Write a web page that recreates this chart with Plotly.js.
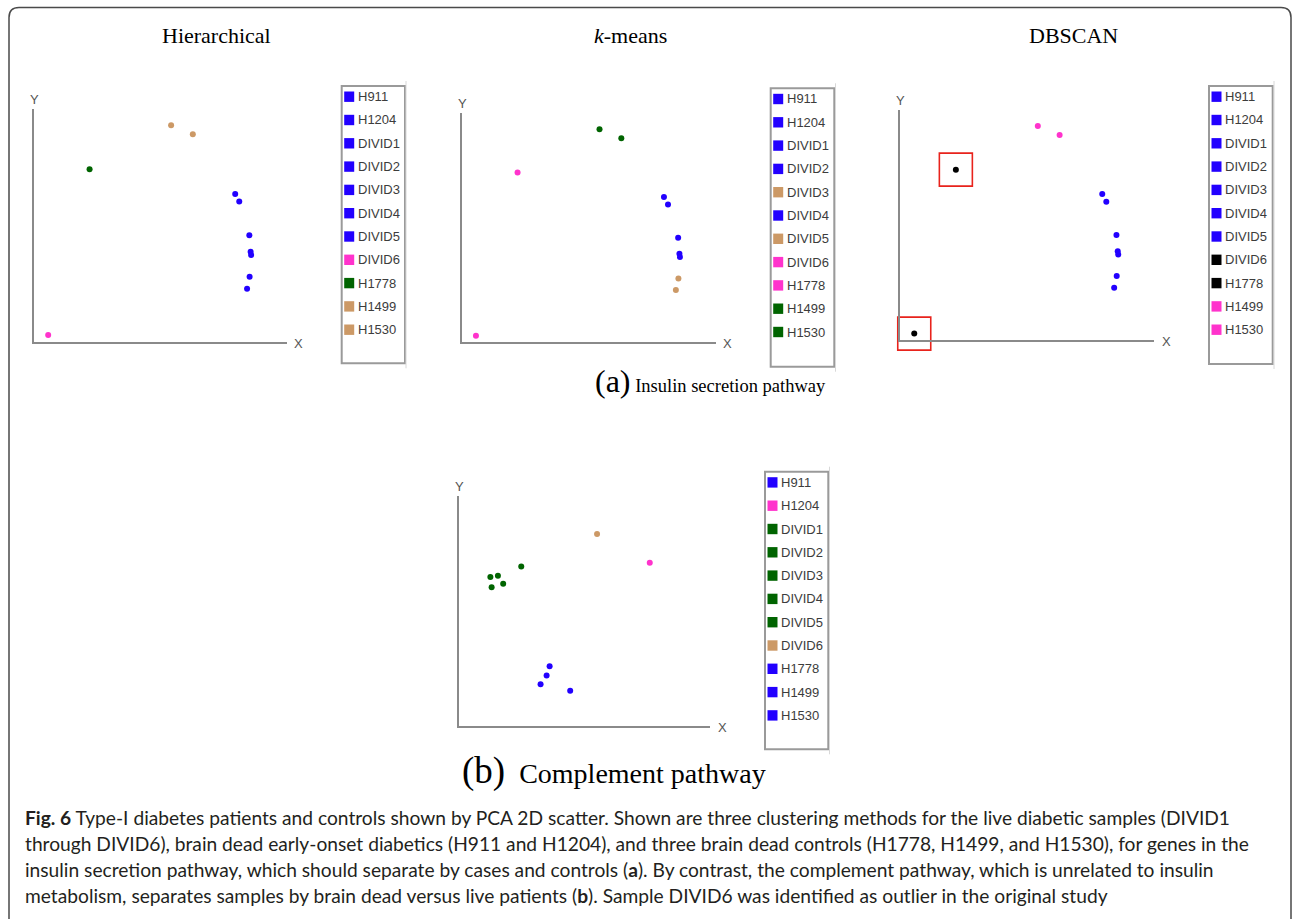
<!DOCTYPE html>
<html>
<head>
<meta charset="utf-8">
<script src="https://cdn.plot.ly/plotly-3.0.1.min.js"></script>
<style>
  html, body { margin: 0; padding: 0; background: #fff; }
  #chart { width: 1293px; height: 919px; }
</style>
</head>
<body>
<div id="chart"></div>
<script>
// ---------------- DATA ----------------
const samples = ['H911','H1204','DIVID1','DIVID2','DIVID3','DIVID4','DIVID5','DIVID6','H1778','H1499','H1530'];

// PCA 2D coordinates (arbitrary units), insulin secretion pathway
const insulinX = [79.6, 81.2, 85.2, 85.7, 85.3, 85.9, 84.3, 5.5, 21.9, 54.2, 62.8];
const insulinY = [63.5, 60.2, 45.7, 38.7, 27.9, 37.3, 22.8, 2.9, 74.1, 93.0, 89.1];

// PCA 2D coordinates (arbitrary units), complement pathway
const complementX = [36.1, 76.0, 24.8, 12.5, 15.5, 17.6, 13.0, 55.0, 34.9, 32.5, 44.3];
const complementY = [26.0, 71.0, 69.3, 64.8, 65.3, 61.9, 60.3, 83.5, 22.0, 18.1, 15.3];

// cluster assignments per method
const hierClusters       = ['blue','blue','blue','blue','blue','blue','blue','pink','green','tan','tan'];
const kmeansClusters     = ['blue','blue','blue','blue','tan','blue','tan','pink','pink','green','green'];
const dbscanClusters     = ['blue','blue','blue','blue','blue','blue','blue','black','black','pink','pink'];
const complementClusters = ['blue','pink','green','green','green','green','green','tan','blue','blue','blue'];

const dbscanOutliers = ['DIVID6','H1778'];

const panelTitles = ['Hierarchical', '<i>k</i>-means', 'DBSCAN'];

const captionLines = [
  '<b>Fig. 6</b> Type-I diabetes patients and controls shown by PCA 2D scatter. Shown are three clustering methods for the live diabetic samples (DIVID1',
  'through DIVID6), brain dead early-onset diabetics (H911 and H1204), and three brain dead controls (H1778, H1499, and H1530), for genes in the',
  'insulin secretion pathway, which should separate by cases and controls (<b>a</b>). By contrast, the complement pathway, which is unrelated to insulin',
  'metabolism, separates samples by brain dead versus live patients (<b>b</b>). Sample DIVID6 was identified as outlier in the original study'
];

// ---------------- STYLE ----------------
const palette = { blue: '#2200ff', pink: '#ff33cc', green: '#006400', tan: '#cc9966', black: '#000000' };
const W = 1293, H = 919;
const px = v => v / W;
const py = v => 1 - v / H;

// panel geometry (pixels): axis extents, legend box
const panels = [
  { xs: insulinX,    ys: insulinY,    cl: hierClusters,       ax: [34.3, 286.7], ay: [109, 341.7], lg: [341.7, 86, 405.0, 363.3], art: 406 },
  { xs: insulinX,    ys: insulinY,    cl: kmeansClusters,     ax: [462, 715.7],  ay: [113.3, 342.3], lg: [770.7, 88.3, 834.3, 366.7], art: 835.5 },
  { xs: insulinX,    ys: insulinY,    cl: dbscanClusters,     ax: [900.3, 1154], ay: [110, 340.3], lg: [1209, 86, 1272.7, 364], art: 1274 },
  { xs: complementX, ys: complementY, cl: complementClusters, ax: [459, 710],    ay: [496, 726],   lg: [765, 471.7, 828.3, 749.3], art: 829.5 }
];

const traces = [];
const shapes = [];
const annotations = [];
const layout = {
  width: W, height: H,
  margin: { l: 0, r: 0, t: 0, b: 0 },
  paper_bgcolor: '#ffffff',
  plot_bgcolor: 'rgba(0,0,0,0)',
  showlegend: false,
  hovermode: 'closest'
};

panels.forEach((p, k) => {
  const n = k === 0 ? '' : String(k + 1);
  const xa = 'xaxis' + n, ya = 'yaxis' + n;
  const axCommon = {
    range: [0, 100], showline: true, linecolor: '#8a8a8a', linewidth: 2,
    showgrid: false, zeroline: false, showticklabels: false, ticks: '', fixedrange: true
  };
  layout[xa] = Object.assign({}, axCommon, { domain: [px(p.ax[0]), px(p.ax[1])], anchor: 'y' + n });
  layout[ya] = Object.assign({}, axCommon, { domain: [py(p.ay[1]), py(p.ay[0])], anchor: 'x' + n });

  traces.push({
    type: 'scatter', mode: 'markers',
    x: p.xs, y: p.ys, text: samples,
    xaxis: 'x' + n, yaxis: 'y' + n, cliponaxis: false,
    marker: { size: 6, color: p.cl.map(c => palette[c]), line: { width: 0 } },
    hovertemplate: '%{text}<extra></extra>', showlegend: false
  });

  // axis labels
  annotations.push({ xref: 'x' + n + ' domain', yref: 'y' + n + ' domain', x: 0, y: 1,
    text: 'Y', showarrow: false, yanchor: 'middle', xanchor: 'center', yshift: 10,
    font: { family: 'Liberation Sans, Arial, sans-serif', size: 13, color: '#555' } });
  annotations.push({ xref: 'x' + n + ' domain', yref: 'y' + n + ' domain', x: 1, y: 0,
    text: 'X', showarrow: false, yanchor: 'middle', xanchor: 'center', xshift: 12, yshift: -1.5,
    font: { family: 'Liberation Sans, Arial, sans-serif', size: 13, color: '#555' } });

  // legend box
  const [L, T, R, B] = p.lg;
  shapes.push({ type: 'rect', xref: 'paper', yref: 'paper', x0: px(L), x1: px(R), y0: py(B), y1: py(T),
    line: { color: '#9a9a9a', width: 2 }, fillcolor: 'rgba(0,0,0,0)' });
  // thin scan artefact line right of legend
  shapes.push({ type: 'line', xref: 'paper', yref: 'paper', x0: px(p.art), x1: px(p.art), y0: py(B + 5), y1: py(T - 5),
    line: { color: '#d8d8d8', width: 1 } });
  samples.forEach((s, i) => {
    const cy = T + 10.7 + i * 23.3;
    shapes.push({ type: 'rect', xref: 'paper', yref: 'paper',
      x0: px(L + 2.5), x1: px(L + 12.5), y0: py(cy + 5.2), y1: py(cy - 5.2),
      line: { width: 0 }, fillcolor: palette[p.cl[i]] });
    annotations.push({ xref: 'paper', yref: 'paper', x: px(L + 14), y: py(cy),
      text: s, showarrow: false, xanchor: 'left', yanchor: 'middle',
      font: { family: 'Liberation Sans, Arial, sans-serif', size: 13, color: '#3c3c3c' } });
  });
});

// DBSCAN outlier boxes (open square markers around the outlier points)
const outIdx = dbscanOutliers.map(nm => samples.indexOf(nm));
traces.push({
  type: 'scatter', mode: 'markers', xaxis: 'x3', yaxis: 'y3', cliponaxis: false,
  x: outIdx.map(i => insulinX[i]), y: outIdx.map(i => insulinY[i]),
  text: dbscanOutliers, hovertemplate: 'outlier: %{text}<extra></extra>', showlegend: false,
  marker: { symbol: 'square-open', size: 33, color: '#e8231c', line: { color: '#e8231c', width: 1.6 } }
});

// panel titles
const titleX = [216.7, 630, 1073.3];
panelTitles.forEach((t, k) => {
  annotations.push({ xref: 'paper', yref: 'paper', x: px(titleX[k]), y: py(36),
    text: t, showarrow: false, xanchor: 'center', yanchor: 'middle',
    font: { family: 'Liberation Serif, Times New Roman, serif', size: 22, color: '#000' } });
});

// section labels
annotations.push({ xref: 'paper', yref: 'paper', x: px(710), y: py(381),
  text: '<span style="font-size:32px">(a)</span> Insulin secretion pathway', showarrow: false,
  xanchor: 'center', yanchor: 'middle',
  font: { family: 'Liberation Serif, Times New Roman, serif', size: 18.5, color: '#000' } });
annotations.push({ xref: 'paper', yref: 'paper', x: px(613.5), y: py(771),
  text: '<span style="font-size:37px">(b)</span>  Complement pathway', showarrow: false,
  xanchor: 'center', yanchor: 'middle',
  font: { family: 'Liberation Serif, Times New Roman, serif', size: 28, color: '#000' } });

// caption
captionLines.forEach((line, i) => {
  annotations.push({ xref: 'paper', yref: 'paper', x: px(23), y: py(817.5 + i * 26),
    text: line, showarrow: false, xanchor: 'left', yanchor: 'middle',
    font: { family: 'Lato, Open Sans, sans-serif', size: 19.2, color: '#231f20' } });
});

// outer rounded frame
const fl = 9, ft = 7.5, fr = 1291, r = 10;
shapes.push({ type: 'path', xref: 'paper', yref: 'paper',
  path: `M ${px(fl)},${py(H + 20)} L ${px(fl)},${py(ft + r)} Q ${px(fl)},${py(ft)} ${px(fl + r)},${py(ft)} ` +
        `L ${px(fr - r)},${py(ft)} Q ${px(fr)},${py(ft)} ${px(fr)},${py(ft + r)} L ${px(fr)},${py(H + 20)}`,
  line: { color: '#4a4a4a', width: 1.5 } });

layout.shapes = shapes;
layout.annotations = annotations;

Plotly.newPlot('chart', traces, layout, { displayModeBar: false, staticPlot: true });
</script>
</body>
</html>
